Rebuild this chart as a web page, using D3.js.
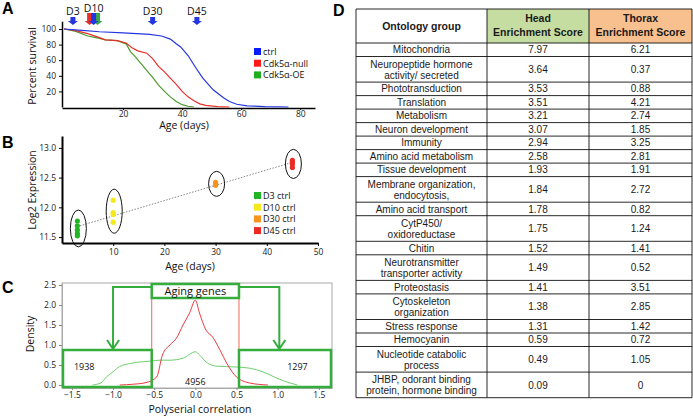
<!DOCTYPE html>
<html>
<head>
<meta charset="utf-8">
<script src="https://cdn.jsdelivr.net/npm/d3@7"></script>
<style>
  body { margin: 0; background: #fff; }
  svg { display: block; }
  .ax text { font-family: "Open Sans", sans-serif; font-size: 8.5px; fill: #222; }
  .lbl { font-family: "Open Sans", sans-serif; fill: #111; }
  .tbl { font-family: "Liberation Sans", Arial, sans-serif; fill: #1a1a1a; }
</style>
</head>
<body>
<div id="fig"></div>
<script>
// ---- panel A: survival curves (age in days, percent alive)
var ctrlSurv = [[0,100],[5,98.5],[12,96.5],[20,95],[29,93],[33,91],[36,87],[38,81],[39.5,77],[42,66],[44.5,51],[47,37],[50.5,22],[54,12],[56,7],[58.5,3.5],[62,1.5],[68,0.5],[76,0]];
var nullSurv = [[0,100],[4,98],[8,94],[12,89],[14,86],[18,85],[21,82],[23,76],[25,72],[28,69],[30,62],[32,52],[34,45],[36,37],[38,29],[40,20],[42,13],[44,8],[46,4],[48,2],[52,0.5],[56,0]];
var oeSurv = [[0,100],[4,97],[8,91],[12,88],[14,86],[18,85],[21,81],[22.5,71],[24,65],[26,56],[28,47],[30,38],[32,28],[34,20],[36,13],[38,7],[40,3],[42,1],[44,0]];
var survNames = ["ctrl", "Cdk5\u03b1-null", "Cdk5\u03b1-OE"];
var arrowDays = [3, 10, 30, 45];
var arrowLabels = ["D3", "D10", "D30", "D45"];

// ---- panel B: log2 expression per sampled day
var exprDays = [3, 10, 30, 45];
var exprNames = ["D3 ctrl", "D10 ctrl", "D30 ctrl", "D45 ctrl"];
var exprVals = [
  [11.77, 11.69, 11.62, 11.56, 11.52],
  [12.12, 11.91, 11.88, 11.75],
  [12.42, 12.39, 12.37],
  [12.79, 12.76, 12.73, 12.67]
];

// ---- panel C: density of polyserial correlation
var redX = [-0.92,-0.75,-0.6,-0.47,-0.4,-0.31,-0.23,-0.15,-0.07,0,0.05,0.13,0.21,0.3,0.38,0.5,0.66,0.88];
var redY = [0,0.02,0.06,0.2,0.75,1.0,1.17,1.5,1.8,2.12,1.8,1.37,1.2,0.87,0.55,0.2,0.05,0];
var greenX = [-1.25,-1.15,-1.08,-1.0,-0.92,-0.76,-0.53,-0.43,-0.31,-0.15,0,0.05,0.14,0.26,0.5,0.66,0.82,0.99,1.15,1.24];
var greenY = [0,0.05,0.2,0.33,0.46,0.55,0.6,0.62,0.62,0.67,0.83,0.75,0.56,0.47,0.45,0.42,0.33,0.17,0.05,0];
var geneCounts = ["1938", "4956", "1297"];

// ---- panel D: enrichment table
var ontologyGroups = ["Mitochondria", "Neuropeptide hormone\nactivity/ secreted", "Phototransduction", "Translation",
  "Metabolism", "Neuron development", "Immunity", "Amino acid metabolism", "Tissue development",
  "Membrane organization,\nendocytosis,", "Amino acid transport", "CytP450/\noxidoreductase", "Chitin",
  "Neurotransmitter\ntransporter activity", "Proteostasis", "Cytoskeleton\norganization", "Stress response",
  "Hemocyanin", "Nucleotide catabolic\nprocess", "JHBP, odorant binding\nprotein, hormone binding"];
var headScores = [7.97, 3.64, 3.53, 3.51, 3.21, 3.07, 2.94, 2.58, 1.93, 1.84, 1.78, 1.75, 1.52, 1.49, 1.41, 1.38, 1.31, 0.59, 0.49, 0.09];
var thoraxScores = [6.21, 0.37, 0.88, 4.21, 2.74, 1.85, 3.25, 2.81, 1.91, 2.72, 0.82, 1.24, 1.41, 0.52, 3.51, 2.85, 1.42, 0.72, 1.05, 0];

var svg = d3.select("#fig").append("svg")
  .attr("width", 693).attr("height", 416);
svg.append("rect").attr("width", 693).attr("height", 416).attr("fill", "#fff");

function panelLetter(t, x, y) {
  svg.append("text").attr("x", x).attr("y", y).text(t)
    .attr("font-family", "Liberation Sans, Arial, sans-serif")
    .attr("font-weight", "bold").attr("font-size", "16px");
}

function styleAxis(g, w) {
  g.attr("class", "ax");
  g.select(".domain").attr("stroke", "#000").attr("stroke-width", w);
  g.selectAll(".tick line").attr("stroke", "#000");
}

// ================= A =================
(function() {
  var x = d3.scaleLinear().domain([-0.7, 85]).range([62, 315]);
  var y = d3.scaleLinear().domain([0, 110]).range([107, 21.2]);
  var colors = ["#2536e0", "#e8302a", "#4c9a2c"];

  var gy = svg.append("g").attr("transform", "translate(62,0)")
    .call(d3.axisLeft(y).tickValues([20, 40, 60, 80, 100]).tickSize(3).tickSizeOuter(0));
  styleAxis(gy, 1.5);
  var gx = svg.append("g").attr("transform", "translate(0,108)")
    .call(d3.axisBottom(x).tickValues([20, 40, 60, 80]).tickSize(2).tickPadding(1).tickSizeOuter(0));
  styleAxis(gx, 1.5);
  gx.selectAll("text").attr("font-size", "8px");

  var line = d3.line().x(function(d) { return x(d[0]) }).y(function(d) { return y(d[1]) });
  [oeSurv, nullSurv, ctrlSurv].forEach(function(s, i) {
    svg.append("path").datum(s).attr("d", line).attr("fill", "none")
      .attr("stroke", colors[2 - i]).attr("stroke-width", 1.2);
  });

  svg.append("text").attr("class", "lbl").attr("font-size", "10.5px")
    .attr("text-anchor", "middle")
    .attr("transform", "translate(36,66) rotate(-90)").text("Percent survival");
  svg.append("text").attr("class", "lbl").attr("font-size", "10.5px")
    .attr("text-anchor", "middle").attr("x", 184).attr("y", 129).text("Age (days)");

  // arrows marking the sampled days
  function arrow(cx, top, c) {
    var p = "M" + (cx - 2.5) + "," + top + "h5v" + (21 - top) + "h2.5l-5,4l-5,-4h2.5z";
    svg.append("path").attr("d", p).attr("fill", c);
  }
  arrowDays.forEach(function(d, i) {
    var cx = x(d);
    if (d === 10) {
      arrow(cx - 4, 13, colors[1]);
      arrow(cx + 4, 13, "#3aa84a");
      arrow(cx, 13, colors[0]);
    } else {
      arrow(cx, 17, colors[0]);
    }
    svg.append("text").attr("class", "lbl").attr("font-size", "10.5px")
      .attr("text-anchor", "middle").attr("x", cx).attr("y", d === 10 ? 11.5 : 15).text(arrowLabels[i]);
  });

  var legCol = ["#0a1cff", "#ff1a1a", "#1fae1f"];
  survNames.forEach(function(n, i) {
    svg.append("rect").attr("x", 254).attr("y", 48 + i * 11.7).attr("width", 7).attr("height", 7).attr("fill", legCol[i]);
    svg.append("text").attr("class", "lbl").attr("font-size", "9px")
      .attr("x", 263).attr("y", 55 + i * 11.7).text(n);
  });
})();

// ================= B =================
(function() {
  var x = d3.scaleLinear().domain([0, 50]).range([62, 318]);
  var y = d3.scaleLinear().domain([11.4, 13.2]).range([243, 136]);
  var colors = ["#22b523", "#f5e81c", "#f7941d", "#ec2a24"];

  var gy = svg.append("g").attr("transform", "translate(62,0)")
    .call(d3.axisLeft(y).tickValues([11.5, 12, 12.5, 13]).tickFormat(d3.format(".1f")).tickSize(3).tickSizeOuter(0));
  styleAxis(gy, 2);
  var gx = svg.append("g").attr("transform", "translate(0,243)")
    .call(d3.axisBottom(x).tickValues([10, 20, 30, 40, 50]).tickSize(3).tickPadding(3).tickSizeOuter(0));
  styleAxis(gx, 2);

  // least squares fit through all samples
  var pts = [];
  exprVals.forEach(function(v, i) { v.forEach(function(e) { pts.push([exprDays[i], e]) }) });
  var mx = d3.mean(pts, function(d) { return d[0] }), my = d3.mean(pts, function(d) { return d[1] });
  var slope = d3.sum(pts, function(d) { return (d[0] - mx) * (d[1] - my) }) /
              d3.sum(pts, function(d) { return (d[0] - mx) * (d[0] - mx) });
  var fit = function(t) { return my + slope * (t - mx) };
  svg.append("line").attr("x1", x(3.5)).attr("y1", y(fit(3.5))).attr("x2", x(45.5)).attr("y2", y(fit(45.5)))
    .attr("stroke", "#666").attr("stroke-width", 0.8).attr("stroke-dasharray", "1.5,1.5");

  exprVals.forEach(function(v, i) {
    var cx = x(exprDays[i]);
    var ext = d3.extent(v);
    var top = y(ext[1]), bot = y(ext[0]);
    svg.selectAll(".pt" + i).data(v).enter().append("circle")
      .attr("cx", cx).attr("cy", function(d) { return y(d) }).attr("r", 2.6)
      .attr("fill", colors[i]);
    svg.append("ellipse").attr("cx", cx + 1).attr("cy", (top + bot) / 2)
      .attr("rx", 8).attr("ry", (bot - top) / 2 + 11)
      .attr("fill", "none").attr("stroke", "#111").attr("stroke-width", 1);
  });

  svg.append("text").attr("class", "lbl").attr("font-size", "10.5px")
    .attr("text-anchor", "middle")
    .attr("transform", "translate(36,190) rotate(-90)").text("Log2 Expression");
  svg.append("text").attr("class", "lbl").attr("font-size", "10.5px")
    .attr("text-anchor", "middle").attr("x", 190).attr("y", 270).text("Age (days)");

  exprNames.forEach(function(n, i) {
    svg.append("rect").attr("x", 254).attr("y", 192 + i * 11.7).attr("width", 7).attr("height", 7).attr("fill", colors[i]);
    svg.append("text").attr("class", "lbl").attr("font-size", "9px")
      .attr("x", 263).attr("y", 199 + i * 11.7).text(n);
  });
})();

// ================= C =================
(function() {
  var x = d3.scaleLinear().domain([-1.62, 1.66]).range([62, 332]);
  var y = d3.scaleLinear().domain([-0.075, 2.55]).range([388, 283]);
  var green = "#34ad3c";

  svg.append("rect").attr("x", 62).attr("y", 283).attr("width", 270).attr("height", 105)
    .attr("fill", "none").attr("stroke", "#aaa").attr("stroke-width", 1);

  var gy = svg.append("g").attr("transform", "translate(62,0)")
    .call(d3.axisLeft(y).tickValues([0, 0.5, 1, 1.5, 2, 2.5]).tickFormat(d3.format(".1f")).tickSize(3).tickSizeOuter(0));
  styleAxis(gy, 1);
  gy.select(".domain").attr("stroke", "#aaa");
  gy.selectAll(".tick line").attr("stroke", "#888");
  var gx = svg.append("g").attr("transform", "translate(0,388)")
    .call(d3.axisBottom(x).tickValues([-1.5, -1, -0.5, 0, 0.5, 1, 1.5]).tickFormat(d3.format(".1f")).tickSize(2).tickPadding(1.5).tickSizeOuter(0));
  styleAxis(gx, 1);
  gx.select(".domain").attr("stroke", "#aaa");
  gx.selectAll(".tick line").attr("stroke", "#888");
  gx.selectAll("text").attr("font-size", "8px");

  // cut-offs
  [-0.53, 0.53].forEach(function(c) {
    svg.append("line").attr("x1", x(c)).attr("x2", x(c)).attr("y1", 283).attr("y2", 388)
      .attr("stroke", "#e8412e").attr("stroke-width", 0.8);
  });

  var line = d3.line().curve(d3.curveMonotoneX);
  svg.append("path").attr("d", line(greenX.map(function(v, i) { return [x(v), y(greenY[i])] })))
    .attr("fill", "none").attr("stroke", "#5cc95c").attr("stroke-width", 0.9);
  svg.append("path").attr("d", line(redX.map(function(v, i) { return [x(v), y(redY[i])] })))
    .attr("fill", "none").attr("stroke", "#e8242a").attr("stroke-width", 0.9);

  // aging gene boxes and connectors
  var bx0 = x(-0.53), bx1 = x(0.53);
  svg.append("rect").attr("x", bx0).attr("y", 284).attr("width", bx1 - bx0).attr("height", 14)
    .attr("fill", "#fff").attr("stroke", green).attr("stroke-width", 2.5);
  svg.append("text").attr("class", "lbl").attr("font-size", "11px").attr("text-anchor", "middle")
    .attr("x", (bx0 + bx1) / 2).attr("y", 295).text("Aging genes");
  svg.append("rect").attr("x", 63).attr("y", 350).attr("width", bx0 - 63).attr("height", 37)
    .attr("fill", "none").attr("stroke", green).attr("stroke-width", 2.5);
  svg.append("rect").attr("x", bx1).attr("y", 350).attr("width", 331 - bx1).attr("height", 37)
    .attr("fill", "none").attr("stroke", green).attr("stroke-width", 2.5);
  var lx = x(-1.0), rx = x(1.02);
  svg.append("path").attr("d", "M" + bx0 + ",287H" + lx + "V349M" + (lx - 6) + ",340L" + lx + ",349L" + (lx + 6) + ",340")
    .attr("fill", "none").attr("stroke", green).attr("stroke-width", 2);
  svg.append("path").attr("d", "M" + bx1 + ",287H" + rx + "V349M" + (rx - 6) + ",340L" + rx + ",349L" + (rx + 6) + ",340")
    .attr("fill", "none").attr("stroke", green).attr("stroke-width", 2);

  svg.append("text").attr("class", "lbl").attr("font-size", "9px").attr("fill", "#2f8a55")
    .attr("text-anchor", "middle").attr("x", x(-1.35)).attr("y", 370).text(geneCounts[0]);
  svg.append("text").attr("class", "lbl").attr("font-size", "9px")
    .attr("text-anchor", "middle").attr("x", x(0)).attr("y", 385).text(geneCounts[1]);
  svg.append("text").attr("class", "lbl").attr("font-size", "9px").attr("fill", "#2f8a55")
    .attr("text-anchor", "middle").attr("x", x(1.24)).attr("y", 370).text(geneCounts[2]);

  svg.append("text").attr("class", "lbl").attr("font-size", "10.5px")
    .attr("text-anchor", "middle")
    .attr("transform", "translate(34,334) rotate(-90)").text("Density");
  svg.append("text").attr("class", "lbl").attr("font-size", "10.5px")
    .attr("text-anchor", "middle").attr("x", 200).attr("y", 412.5).text("Polyserial correlation");
})();

// ================= D =================
(function() {
  var colX = [356, 487, 589, 692];
  var headTop = 9, headBot = 43;
  var single = 13.5, dbl = 25.6;
  var g = svg.append("g").attr("class", "tbl");

  g.append("rect").attr("x", colX[1]).attr("y", headTop).attr("width", colX[2] - colX[1]).attr("height", headBot - headTop).attr("fill", "#c6dda2");
  g.append("rect").attr("x", colX[2]).attr("y", headTop).attr("width", colX[3] - colX[2]).attr("height", headBot - headTop).attr("fill", "#f8c08e");

  function txt(x, y, s, bold, size) {
    g.append("text").attr("x", x).attr("y", y).attr("text-anchor", "middle")
      .attr("font-size", (size || 10) + "px").attr("font-weight", bold ? "bold" : "normal").text(s);
  }
  txt((colX[0] + colX[1]) / 2, 30, "Ontology group", true, 10.5);
  txt((colX[1] + colX[2]) / 2, 22, "Head", true, 10.5);
  txt((colX[1] + colX[2]) / 2, 35.5, "Enrichment Score", true, 10.5);
  txt((colX[2] + colX[3]) / 2, 22, "Thorax", true, 10.5);
  txt((colX[2] + colX[3]) / 2, 35.5, "Enrichment Score", true, 10.5);

  var fmt = function(v) { return v === 0 ? "0" : v.toFixed(2) };
  var yTop = headBot;
  var hLines = [headTop, headBot];
  ontologyGroups.forEach(function(name, i) {
    var lines = name.split("\n");
    var h = lines.length > 1 ? dbl : single;
    var mid = yTop + h / 2;
    if (lines.length > 1) {
      txt((colX[0] + colX[1]) / 2, mid - 1.8, lines[0]);
      txt((colX[0] + colX[1]) / 2, mid + 9.2, lines[1]);
    } else {
      txt((colX[0] + colX[1]) / 2, mid + 3.6, lines[0]);
    }
    txt((colX[1] + colX[2]) / 2, mid + 3.6, fmt(headScores[i]));
    txt((colX[2] + colX[3]) / 2, mid + 3.6, fmt(thoraxScores[i]));
    yTop += h;
    hLines.push(yTop);
  });

  hLines.forEach(function(yy) {
    g.append("line").attr("x1", colX[0]).attr("x2", colX[3]).attr("y1", yy).attr("y2", yy)
      .attr("stroke", "#111").attr("stroke-width", 0.9);
  });
  colX.forEach(function(xx) {
    g.append("line").attr("x1", xx).attr("x2", xx).attr("y1", headTop).attr("y2", yTop)
      .attr("stroke", "#111").attr("stroke-width", 0.9);
  });
})();

panelLetter("A", 2, 14);
panelLetter("B", 2, 148);
panelLetter("C", 2, 293);
panelLetter("D", 333, 16);
</script>
</body>
</html>
